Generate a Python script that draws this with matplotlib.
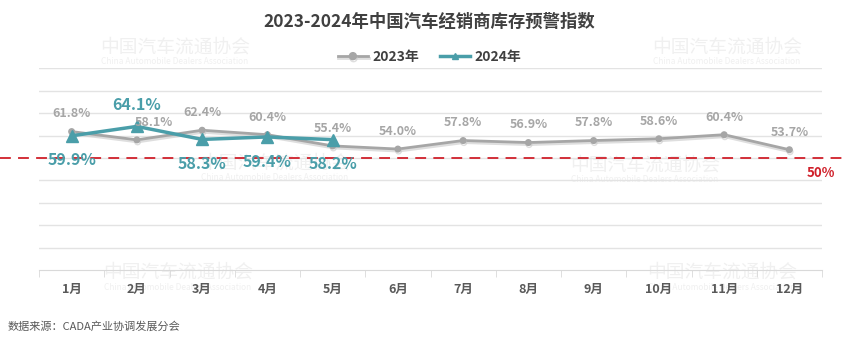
import matplotlib.pyplot as plt
import matplotlib.patheffects as pe

plt.rcParams['font.family'] = ['Noto Sans CJK SC', 'DejaVu Sans']

# 月份与两年的库存预警指数（%）
months = ['1月', '2月', '3月', '4月', '5月', '6月', '7月', '8月', '9月', '10月', '11月', '12月']
idx_2023 = [61.8, 58.1, 62.4, 60.4, 55.4, 54.0, 57.8, 56.9, 57.8, 58.6, 60.4, 53.7]
idx_2024 = [59.9, 64.1, 58.3, 59.4, 58.2]
# 2024年标签放在点的上方(+)或下方(-)
pos_2024 = [-1, 1, -1, -1, -1]
warn_line = 50

gray = '#a6a6a6'
teal = '#4a9ea9'
red = '#d0202a'

fig = plt.figure(figsize=(8.59, 3.42), dpi=100)
ax = fig.add_axes([39 / 859, 1 - 270 / 342, 783 / 859, 201.6 / 342])
ax.patch.set_alpha(0)

# 水印
marks = [(175, 47), (727, 47), (275, 163), (645, 165), (178, 272), (722, 272)]
for mx, my in marks:
    fig.text(mx / 859, 1 - my / 342, '中国汽车流通协会', fontsize=13.5, color='#f0f0f0',
             ha='center', va='center', zorder=-5)
    fig.text(mx / 859, 1 - (my + 15) / 342, 'China Automobile Dealers Association',
             fontsize=6, color='#f0f0f0', ha='center', va='center', zorder=-5)

x23 = list(range(len(idx_2023)))
x24 = list(range(len(idx_2024)))

ax.plot(x23, idx_2023, color=gray, lw=2, marker='o', ms=4, label='2023年', zorder=3,
        path_effects=[pe.SimpleLineShadow(offset=(0.5, -1.5), shadow_color='#c8c8c8', alpha=0.6),
                      pe.Normal()])
ax.plot(x24, idx_2024, color=teal, lw=2.5, marker='^', ms=8, label='2024年', zorder=4)

for x, v in zip(x23, idx_2023):
    # 2月标签右移，避开2024年的三角标记
    dx = 12 if x == 1 else 0
    ax.annotate(f'{v:.1f}%', (x, v), xytext=(dx, 8), textcoords='offset points',
                ha='center', va='bottom', fontsize=9, fontweight='bold', color=gray, zorder=5)
for x, v, p in zip(x24, idx_2024, pos_2024):
    ax.annotate(f'{v:.1f}%', (x, v), xytext=(0, 10 * p if p > 0 else -12),
                textcoords='offset points', ha='center', va='bottom' if p > 0 else 'top',
                fontsize=11.5, fontweight='bold', color=teal, zorder=6)

# 50%警戒线
ax.axhline(warn_line, xmin=-0.05, xmax=1.03, color=red, lw=1.3, dashes=(6, 4),
           clip_on=False, zorder=2)
ax.text(0.998, 43.3, '50%', transform=ax.get_yaxis_transform(), ha='center', va='center',
        fontsize=9.5, fontweight='bold', color=red)

ax.set_xlim(-0.5, len(months) - 0.5)
ax.set_ylim(0, 90)
ax.set_yticks(range(10, 91, 10))
ax.yaxis.grid(True, color='#e3e3e3', lw=1)
ax.set_axisbelow(True)
ax.tick_params(axis='y', left=False, labelleft=False)
ax.set_xticks(x23)
ax.set_xticklabels(months, fontsize=9, fontweight='bold', color='#595959')
ax.set_xticks([i - 0.5 for i in range(len(months) + 1)], minor=True)
ax.tick_params(axis='x', which='major', length=0, pad=9)
ax.tick_params(axis='x', which='minor', length=5, color='#d9d9d9')
for s in ['top', 'right', 'left']:
    ax.spines[s].set_visible(False)
ax.spines['bottom'].set_color('#d9d9d9')

fig.text(0.5, 1 - 22 / 342, '2023-2024年中国汽车经销商库存预警指数', ha='center', va='center',
         fontsize=12.5, fontweight='bold', color='#404040')
leg = ax.legend(loc='center', bbox_to_anchor=(0.5, 1 - 57 / 342), bbox_transform=fig.transFigure,
                ncol=2, frameon=False, handlelength=2.2, columnspacing=1.5, handletextpad=0.3,
                prop={'size': 10, 'weight': 'bold'})
for t in leg.get_texts():
    t.set_color('#404040')
for h in leg.legend_handles:
    h.set_markersize(5)

fig.text(8 / 859, 1 - 327 / 342, '数据来源：CADA产业协调发展分会', ha='left', va='center',
         fontsize=8, color='#595959')

fig.savefig('out.png', dpi=100)
